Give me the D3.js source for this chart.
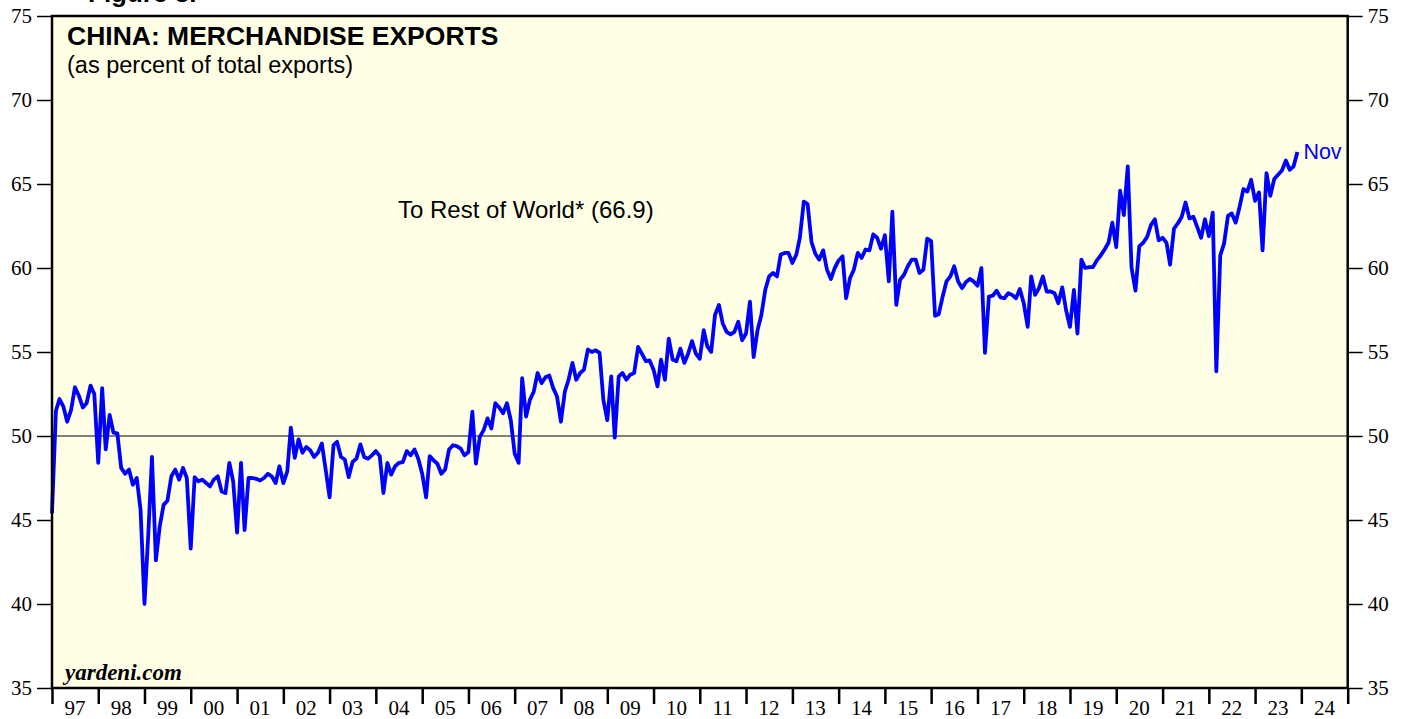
<!DOCTYPE html>
<html>
<head>
<meta charset="utf-8">
<script src="https://cdn.jsdelivr.net/npm/d3@7"></script>
<style>
  body { margin: 0; background: #fff; }
  svg { display: block; }
</style>
</head>
<body>
<div id="chart"></div>
<script>
// monthly share of China's exports going to rest of world (%), Dec 1996 .. Nov 2023
const firstMonth = "1996-12";
const restOfWorld = [
  45.4,
  51.5, 52.2, 51.75, 50.85, 51.55, 52.9, 52.4, 51.7, 51.95, 53.0, 52.5, 48.4,
  52.85, 49.2, 51.25, 50.2, 50.15, 48.1, 47.75, 48.0, 47.1, 47.5, 45.6, 40.0,
  44.3, 48.75, 42.6, 44.6, 45.9, 46.15, 47.6, 48.0, 47.4, 48.1, 47.5, 43.3,
  47.55, 47.3, 47.4, 47.2, 47.0, 47.4, 47.6, 46.7, 46.6, 48.4, 47.3, 44.25,
  48.4, 44.4, 47.5, 47.5, 47.45, 47.35, 47.5, 47.75, 47.6, 47.2, 48.2, 47.2,
  47.9, 50.5, 48.7, 49.8, 49.0, 49.35, 49.15, 48.75, 49.0, 49.55, 48.0, 46.35,
  49.45, 49.65, 48.75, 48.6, 47.55, 48.45, 48.65, 49.5, 48.75, 48.65, 48.85, 49.1,
  48.8, 46.6, 48.4, 47.7, 48.2, 48.4, 48.45, 49.1, 48.85, 49.2, 48.65, 47.75,
  46.35, 48.8, 48.55, 48.35, 47.75, 48.0, 49.2, 49.45, 49.4, 49.25, 48.85, 49.05,
  51.45, 48.35, 49.95, 50.35, 51.05, 50.45, 51.95, 51.7, 51.35, 51.95, 50.95, 48.95,
  48.4, 53.45, 51.15, 52.15, 52.65, 53.75, 53.15, 53.5, 53.6, 52.85, 52.35, 50.85,
  52.65, 53.35, 54.35, 53.35, 53.75, 53.95, 55.15, 55.0, 55.1, 54.95, 52.15, 50.95,
  53.55, 49.9, 53.55, 53.75, 53.35, 53.65, 53.75, 55.3, 54.9, 54.45, 54.5, 53.95,
  52.95, 54.55, 53.35, 55.8, 54.55, 54.45, 55.2, 54.35, 54.9, 55.65, 54.9, 54.6,
  56.3, 55.35, 55.0, 57.2, 57.8, 56.7, 56.2, 56.05, 56.2, 56.8, 55.7, 56.1,
  58.0, 54.7, 56.3, 57.2, 58.7, 59.5, 59.7, 59.5, 60.8, 60.9, 60.9, 60.3,
  60.8, 61.8, 63.95, 63.8, 61.55, 60.85, 60.5, 61.05, 59.9, 59.35, 60.0, 60.45,
  60.7, 58.2, 59.4, 59.9, 60.9, 60.6, 61.1, 61.05, 62.0, 61.8, 61.15, 61.95,
  59.2, 63.35, 57.8, 59.3, 59.6, 60.1, 60.5, 60.5, 59.7, 59.9, 61.75, 61.6,
  57.15, 57.25, 58.3, 59.2, 59.5, 60.1, 59.2, 58.8, 59.15, 59.35, 59.2, 58.95,
  60.0, 54.95, 58.3, 58.35, 58.65, 58.25, 58.2, 58.5, 58.4, 58.2, 58.75, 57.9,
  56.5, 59.5, 58.4, 58.8, 59.5, 58.6, 58.6, 58.5, 57.9, 58.85, 57.5, 56.5,
  58.7, 56.1, 60.5, 60.0, 60.05, 60.05, 60.45, 60.75, 61.1, 61.5, 62.7, 61.25,
  64.6, 63.15, 66.05, 60.0, 58.65, 61.3, 61.5, 61.85, 62.55, 62.9, 61.65, 61.8,
  61.5, 60.2, 62.35, 62.65, 63.05, 63.9, 62.95, 63.05, 62.45, 61.8, 62.9, 61.9,
  63.3, 53.85, 60.75, 61.45, 63.1, 63.25, 62.7, 63.65, 64.7, 64.55, 65.25, 64.0,
  64.5, 61.05, 65.65, 64.3, 65.3, 65.55, 65.8, 66.4, 65.85, 66.05, 66.9
];
const yearLabels = ["97","98","99","00","01","02","03","04","05","06","07","08","09","10",
                    "11","12","13","14","15","16","17","18","19","20","21","22","23","24"];
const yTicks = [35, 40, 45, 50, 55, 60, 65, 70, 75];
const refLevel = 50;
const seriesNote = "To Rest of World* (66.9)";
const lastMonthLabel = "Nov";

const width = 1407, height = 719;
const plot = { left: 52, right: 1347.7, top: 16, bottom: 688 };
const sans = "'Liberation Sans', Arial, sans-serif";
const serif = "'Liberation Serif', 'Times New Roman', serif";

const svg = d3.select("#chart").append("svg")
  .attr("width", width)
  .attr("height", height);

const x = d3.scaleTime()
  .domain([new Date(1997, 0, 1), new Date(2025, 0, 1)])
  .range([plot.left, plot.right]);
const y = d3.scaleLinear()
  .domain([35, 75])
  .range([plot.bottom, plot.top]);

// monthly values are plotted at month end
const start = d3.timeParse("%Y-%m")(firstMonth);
const points = restOfWorld.map((v, i) => ({ date: d3.timeMonth.offset(start, i + 1), value: v }));

// plot background
svg.append("rect")
  .attr("x", plot.left).attr("y", plot.top)
  .attr("width", plot.right - plot.left).attr("height", plot.bottom - plot.top)
  .attr("fill", "#ffffe6");

// cut-off figure heading at the very top
svg.append("text")
  .attr("x", 88).attr("y", 2)
  .style("font-family", sans).style("font-weight", "bold").style("font-size", "26px")
  .text("Figure 3.");

// reference line at 50
svg.append("line")
  .attr("x1", plot.left).attr("x2", plot.right)
  .attr("y1", y(refLevel)).attr("y2", y(refLevel))
  .attr("stroke", "#000").attr("stroke-width", 1);

// series
svg.append("path")
  .datum(points)
  .attr("fill", "none")
  .attr("stroke", "#0000ff")
  .attr("stroke-width", 3.8)
  .attr("stroke-linejoin", "round")
  .attr("d", d3.line().x(d => x(d.date)).y(d => y(d.value)));

// frame
svg.append("rect")
  .attr("x", plot.left).attr("y", plot.top)
  .attr("width", plot.right - plot.left).attr("height", plot.bottom - plot.top)
  .attr("fill", "none").attr("stroke", "#000").attr("stroke-width", 2.5);

// y axes (both sides)
function styleAxis(g) {
  g.select(".domain").remove();
  g.selectAll("line").attr("stroke", "#000").attr("stroke-width", 1.5);
  g.selectAll("text")
    .attr("fill", "#000")
    .style("font-family", serif).style("font-size", "21px");
}
svg.append("g")
  .attr("transform", `translate(${plot.left},0)`)
  .call(d3.axisLeft(y).tickValues(yTicks).tickSize(15).tickPadding(5))
  .call(styleAxis);
svg.append("g")
  .attr("transform", `translate(${plot.right},0)`)
  .call(d3.axisRight(y).tickValues(yTicks).tickSize(15).tickPadding(5))
  .call(styleAxis);

// x axis: year boundary ticks, labels centred in each year
const xAxis = svg.append("g")
  .attr("transform", `translate(0,${plot.bottom})`)
  .call(d3.axisBottom(x).ticks(d3.timeYear).tickSize(16).tickFormat(""));
xAxis.select(".domain").remove();
xAxis.selectAll("line").attr("stroke", "#000").attr("stroke-width", 2.5);

svg.append("g").selectAll("text")
  .data(yearLabels)
  .join("text")
    .attr("x", (d, i) => x(new Date(1997 + i, 6, 1)))
    .attr("y", 715)
    .attr("text-anchor", "middle")
    .style("font-family", serif).style("font-size", "21px")
    .text(d => d);

// titles and notes
svg.append("text")
  .attr("x", 67).attr("y", 45)
  .style("font-family", sans).style("font-weight", "bold").style("font-size", "26.5px")
  .text("CHINA: MERCHANDISE EXPORTS");
svg.append("text")
  .attr("x", 67).attr("y", 73)
  .style("font-family", sans).style("font-size", "23.5px")
  .text("(as percent of total exports)");
svg.append("text")
  .attr("x", 398).attr("y", 218)
  .style("font-family", sans).style("font-size", "24px")
  .text(seriesNote);

const last = points[points.length - 1];
svg.append("text")
  .attr("x", x(last.date) + 6).attr("y", y(last.value) + 7)
  .attr("fill", "#0000ff")
  .style("font-family", sans).style("font-size", "21.5px")
  .text(lastMonthLabel);

svg.append("text")
  .attr("x", 65).attr("y", 680)
  .style("font-family", serif).style("font-weight", "bold").style("font-style", "italic")
  .style("font-size", "23px")
  .text("yardeni.com");
</script>
</body>
</html>
